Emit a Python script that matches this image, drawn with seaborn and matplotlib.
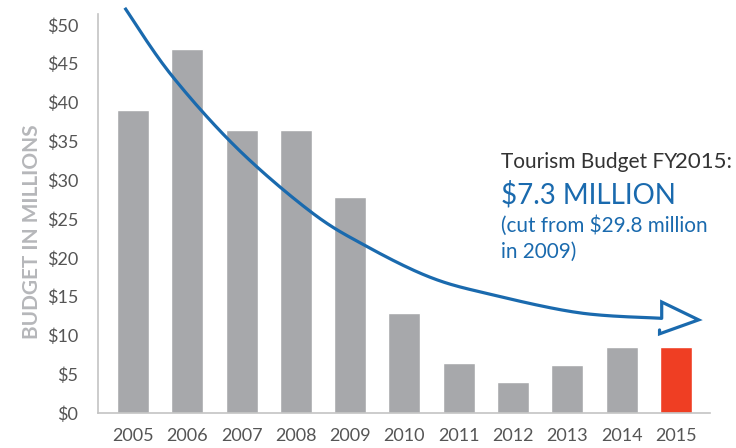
import numpy as np
import pandas as pd
import matplotlib
matplotlib.use("Agg")
import matplotlib.pyplot as plt
import seaborn as sns

years = ['2005', '2006', '2007', '2008', '2009', '2010', '2011', '2012', '2013', '2014', '2015']
budget = [39.0, 46.9, 36.5, 36.5, 27.8, 12.9, 6.4, 4.0, 6.2, 8.5, 8.5]
bar_colors = ['#a7a8ab'] * 10 + ['#ef3e23']
yticks = [0, 5, 10, 15, 20, 25, 30, 35, 40, 45, 50]
ytick_labels = ['$' + str(t) for t in yticks]

# hand drawn trend arrow (annotation, in data units)
curve_x = [-0.15, 0.70, 1.92, 3.28, 4.27, 5.47, 6.58, 8.23, 9.74]
curve_y = [52.2, 43.6, 34.1, 25.9, 21.6, 17.5, 15.3, 12.9, 12.2]
head_x = [9.74, 9.74, 10.42, 9.70, 9.70]
head_y = [12.2, 14.3, 12.0, 10.2, 10.7]

BLUE = '#1a6aae'

sns.set_style("white")
plt.rcParams['font.family'] = ['Lato', 'DejaVu Sans']

df = pd.DataFrame({'year': years, 'budget': budget})

fig = plt.figure(figsize=(7.36, 4.48), dpi=100)
ax = fig.add_axes([0.1327, 0.0781, 0.8320, 0.8906])

sns.barplot(data=df, x='year', y='budget', hue='year', palette=bar_colors,
            width=0.59, legend=False, ax=ax, saturation=1)

ax.set_xlim(-0.65, 10.63)
ax.set_ylim(0, 51.4)
ax.set_yticks(yticks)
ax.set_yticklabels(ytick_labels)
ax.tick_params(axis='both', length=0, labelsize=13, labelcolor='#555555')
ax.tick_params(axis='y', pad=14)
ax.tick_params(axis='x', pad=11)

ax.set_xlabel('')
ax.set_ylabel('')
fig.text(0.0435, 0.482, 'BUDGET IN MILLIONS', fontsize=15, fontweight='bold',
         color='#b6b7ba', rotation=90, ha='center', va='center')

sns.despine(ax=ax)
for s in ['left', 'bottom']:
    ax.spines[s].set_color('#c4c4c4')
    ax.spines[s].set_linewidth(1.2)

# smooth the hand drawn curve (Catmull-Rom)
pts = np.column_stack([curve_x, curve_y])
pts = np.vstack([pts[0], pts, pts[-1]])
sx, sy = [], []
for i in range(1, len(pts) - 2):
    p0, p1, p2, p3 = pts[i - 1], pts[i], pts[i + 1], pts[i + 2]
    for t in np.linspace(0, 1, 25, endpoint=False):
        q = 0.5 * ((2 * p1) + (-p0 + p2) * t + (2 * p0 - 5 * p1 + 4 * p2 - p3) * t ** 2
                   + (-p0 + 3 * p1 - 3 * p2 + p3) * t ** 3)
        sx.append(q[0])
        sy.append(q[1])
sx.append(curve_x[-1])
sy.append(curve_y[-1])
ax.plot(sx, sy, color=BLUE, lw=2.3, clip_on=False, solid_capstyle='butt')
ax.plot(head_x, head_y, color=BLUE, lw=2.3, clip_on=False, solid_joinstyle='miter')

fig.text(0.681, 0.625, 'Tourism Budget FY', fontsize=15, color='#333333', va='baseline')
fig.text(0.9165, 0.625, '2015:', fontsize=16, color='#333333', va='baseline')
fig.text(0.681, 0.545, '$7.3 MILLION', fontsize=20, color=BLUE, va='baseline')
fig.text(0.681, 0.482, '(cut from $29.8 million', fontsize=14.9, color=BLUE, va='baseline')
fig.text(0.681, 0.424, 'in 2009)', fontsize=14.9, color=BLUE, va='baseline')

fig.savefig('out.png', dpi=100)
